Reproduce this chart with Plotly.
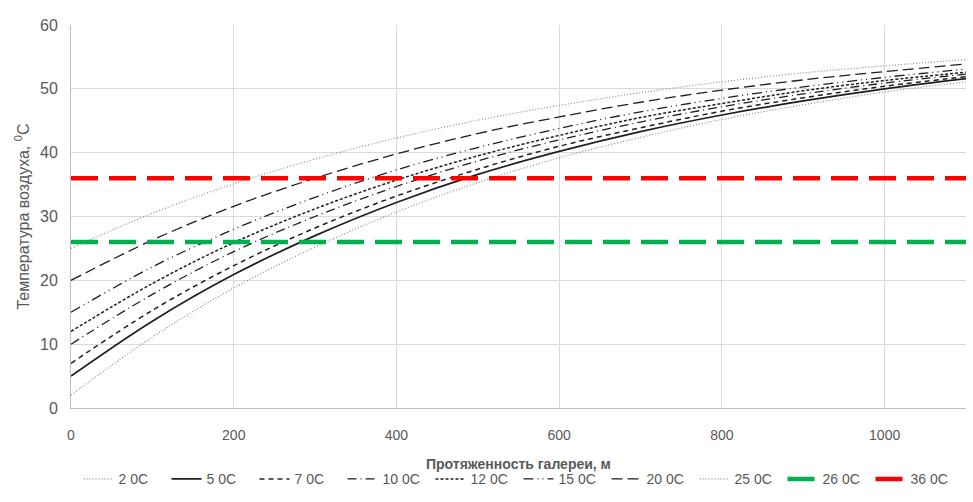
import plotly.graph_objects as go

# Distance along the gallery, m
distance = [0, 100, 200, 300, 400, 500, 600, 700, 800, 900, 1000, 1100]

# Air temperature along the gallery for each inlet temperature, °C
t_2 = [2.0, 11.1, 18.8, 25.2, 30.7, 35.3, 39.2, 42.4, 45.2, 47.5, 49.5, 51.1]
t_5 = [5.0, 13.6, 20.9, 27.0, 32.2, 36.6, 40.2, 43.3, 45.9, 48.1, 50.0, 51.6]
t_7 = [7.0, 15.3, 22.3, 28.2, 33.2, 37.4, 41.0, 43.9, 46.5, 48.6, 50.4, 51.9]
t_10 = [10.0, 17.8, 24.5, 30.0, 34.7, 38.7, 42.0, 44.8, 47.2, 49.2, 50.9, 52.3]
t_12 = [12.0, 19.5, 25.9, 31.2, 35.7, 39.5, 42.7, 45.5, 47.7, 49.7, 51.3, 52.6]
t_15 = [15.0, 22.1, 28.0, 33.0, 37.3, 40.8, 43.8, 46.4, 48.5, 50.3, 51.8, 53.1]
t_20 = [20.0, 26.3, 31.6, 36.0, 39.8, 43.0, 45.6, 47.9, 49.8, 51.4, 52.7, 53.9]
t_25 = [25.0, 30.5, 35.1, 39.0, 42.3, 45.1, 47.4, 49.4, 51.1, 52.5, 53.6, 54.6]

# Limit levels
limit_26 = 26
limit_36 = 36

x_ticks = [0, 200, 400, 600, 800, 1000]
y_ticks = [0, 10, 20, 30, 40, 50, 60]

curves = [
    ("2 0C", t_2, "#8c8c8c", 1.2, "1px,2px"),
    ("5 0C", t_5, "#1f1f1f", 1.7, "solid"),
    ("7 0C", t_7, "#1f1f1f", 1.5, "5px,4px"),
    ("10 0C", t_10, "#1f1f1f", 1.3, "9px,4px,1px,4px"),
    ("12 0C", t_12, "#1f1f1f", 1.5, "3px,2px"),
    ("15 0C", t_15, "#1f1f1f", 1.3, "10px,4px,1px,4px,1px,4px"),
    ("20 0C", t_20, "#1f1f1f", 1.3, "11px,5px"),
    ("25 0C", t_25, "#8c8c8c", 1.2, "1px,2px"),
]

fig = go.Figure()
for name, vals, color, width, dash in curves:
    fig.add_trace(go.Scatter(
        x=distance, y=vals, name=name, mode="lines",
        line=dict(color=color, width=width, dash=dash, shape="spline"),
    ))

fig.add_trace(go.Scatter(
    x=[distance[0], distance[-1]], y=[limit_26, limit_26], name="26 0C",
    mode="lines", line=dict(color="#00b050", width=4.5, dash="27px,11px"),
))
fig.add_trace(go.Scatter(
    x=[distance[0], distance[-1]], y=[limit_36, limit_36], name="36 0C",
    mode="lines", line=dict(color="#ff0000", width=4.5, dash="27px,11px"),
))

fig.update_layout(
    width=973, height=502,
    margin=dict(l=71, r=7, t=25, b=94),
    paper_bgcolor="white", plot_bgcolor="white",
    font=dict(family="Liberation Sans Narrow, Liberation Sans, sans-serif", color="#595959", size=13),
    showlegend=True,
    legend=dict(
        orientation="h", x=0.5, xanchor="center", y=-0.228, yanchor="bottom",
        font=dict(size=14, color="#595959"), itemwidth=30,
        entrywidth=43, entrywidthmode="pixels",
        tracegroupgap=0,
    ),
    xaxis=dict(
        range=[0, 1100], tickvals=x_ticks, showgrid=True, gridcolor="#d9d9d9",
        gridwidth=1, zeroline=False, showline=True, linecolor="#bfbfbf",
        ticks="", ticklabelstandoff=14, tickfont=dict(size=14, color="#595959"),
        title=dict(text="<b>Протяженность галереи, м</b>", standoff=17,
                   font=dict(size=14, color="#595959")),
    ),
    yaxis=dict(
        range=[0, 60], tickvals=y_ticks, showgrid=True, gridcolor="#d9d9d9",
        gridwidth=1, zeroline=False, showline=True, linecolor="#bfbfbf",
        ticks="", ticklabelstandoff=9,
        tickfont=dict(family="Liberation Sans, sans-serif", size=16, color="#595959"),
        title=dict(text="Температура воздуха, <sup>0</sup>C", standoff=6,
                   font=dict(family="Liberation Sans, sans-serif", size=16, color="#595959")),
    ),
)

fig.write_html("out.html")
